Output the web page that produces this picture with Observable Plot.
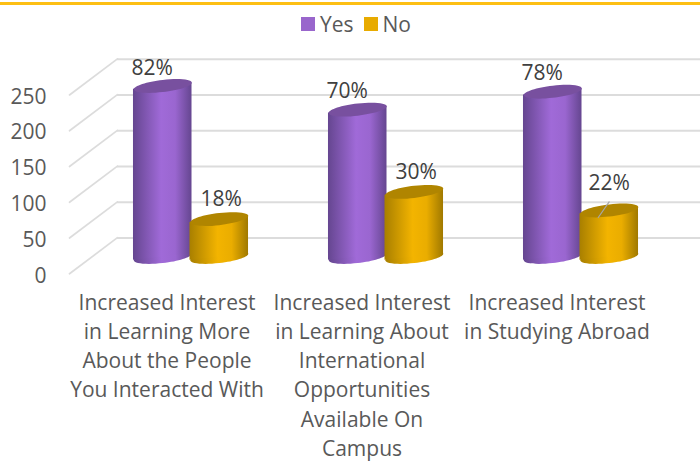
<!DOCTYPE html>
<html>
<head>
<meta charset="utf-8">
<script src="https://cdn.jsdelivr.net/npm/d3@7"></script>
<script src="https://cdn.jsdelivr.net/npm/@observablehq/plot@0.6"></script>
<style>
html,body{margin:0;padding:0;background:#fff;overflow:hidden}
#wrap{position:relative;width:700px;height:462px;font-family:"Open Sans",sans-serif}
#topline{position:absolute;left:0;top:2.4px;width:700px;height:2.3px;background:#fdbf14}
#legend{position:absolute;left:301px;top:7px}
#legend svg{margin-right:5px!important}
#legend span{margin-right:10px!important}
#wrap svg.chart{position:absolute;left:0;top:0}
</style>
</head>
<body>
<div id="wrap"><div id="topline"></div><div id="legend"></div></div>
<script>
const categories = [
  "Increased Interest\nin Learning More\nAbout the People\nYou Interacted With",
  "Increased Interest\nin Learning About\nInternational\nOpportunities\nAvailable On\nCampus",
  "Increased Interest\nin Studying Abroad"
];
const seriesNames = ["Yes", "No"];
const yesValues = [239, 206, 231];
const noValues = [53, 91, 65];
const yesPercents = ["82%", "70%", "78%"];
const noPercents = ["18%", "30%", "22%"];
const yTicks = [0, 50, 100, 150, 200, 250];
const legendColors = ["#9966cc", "#e8ab00"];

const rows = categories.flatMap((c, i) => [
  {category: c, series: "Yes", value: yesValues[i], label: yesPercents[i]},
  {category: c, series: "No", value: noValues[i], label: noPercents[i]}
]);

// pseudo-3D set-up: the floor depth in y units and px
const depth = 50, base = 23.5, backDx = 48, midDx = 24;
const shear = 0.113;
const rx = 29;
const ellipse = {
  draw(ctx, size) {
    const a = Math.sqrt(size / Math.PI), b = a * 0.21, c = 0.5523;
    const P = (x, y) => [x, y - shear * x];
    ctx.moveTo(...P(-a, 0));
    ctx.bezierCurveTo(...P(-a, -b * c), ...P(-a * c, -b), ...P(0, -b));
    ctx.bezierCurveTo(...P(a * c, -b), ...P(a, -b * c), ...P(a, 0));
    ctx.bezierCurveTo(...P(a, b * c), ...P(a * c, b), ...P(0, b));
    ctx.bezierCurveTo(...P(-a * c, b), ...P(-a, b * c), ...P(-a, 0));
    ctx.closePath();
  }
};
const lineShape = {draw(ctx, l) { ctx.moveTo(0, 0); ctx.lineTo(0, -l); }};
const skewBars = (index, scales, values, dims, context, next) => {
  const g = next(index, scales, values, dims, context);
  d3.select(g).selectAll("rect").each(function () {
    const x = +this.getAttribute("x") + this.getAttribute("width") / 2;
    const y = +this.getAttribute("y") + this.getAttribute("height") / 2;
    this.setAttribute("transform",
      `translate(${x},${y}) matrix(1,${-shear},0,1,0,0) translate(${-x},${-y})`);
  });
  return g;
};

const styles = {
  Yes: {body: "url(#gradYes)", top: "#78509f"},
  No: {body: "url(#gradNo)", top: "#b08500"}
};
const cylinder = (s) => {
  const data = rows.filter((d) => d.series === s);
  const shared = {fx: "category", x: "series", dx: midDx};
  return [
    Plot.dot(data, {...shared, y: () => base, r: rx, symbol: ellipse, fill: styles[s].body, stroke: null}),
    Plot.barY(data, {...shared, y1: () => base, y2: (d) => base + d.value, fill: styles[s].body, insetLeft: -1, insetRight: -1, render: skewBars}),
    Plot.dot(data, {...shared, y: (d) => base + d.value, r: rx, symbol: ellipse, fill: styles[s].top, stroke: null})
  ];
};
const moved = (d) => d.label === "22%";
const labelFont = {fontSize: 21, fill: "#404040", stroke: null};

const chart = Plot.plot({
  width: 700, height: 462,
  marginLeft: 69, marginRight: 46, marginTop: 0, marginBottom: 0,
  style: {fontFamily: '"Open Sans", sans-serif', background: "transparent"},
  className: "chart",
  fx: {domain: categories, axis: null, padding: 0, round: false, label: null},
  x: {domain: seriesNames, axis: null, paddingInner: 0, paddingOuter: 0.725, round: false},
  y: {domain: [0, 300], range: [273.3, 58.7], axis: null},
  marks: [
    Plot.ruleY(yTicks, {y: (d) => d + depth, dx: backDx, stroke: "#dcdcdc", strokeWidth: 2}),
    Plot.vector(yTicks, {y: (d) => d, frameAnchor: "left", facetAnchor: "left", length: 60, rotate: 53, anchor: "start", shape: lineShape, stroke: "#dcdcdc", strokeWidth: 1.7}),
    Plot.axisY({ticks: yTicks, tickSize: 0, tickPadding: 23, label: null, fontSize: 21, dy: 2, color: "#595959", fill: "#595959"}),
    ...seriesNames.flatMap(cylinder),
    Plot.text(rows.filter((d) => d.series === "Yes"), {fx: "category", x: "series", y: (d) => base + d.value, text: "label", dx: midDx - 10.5, dy: -18, ...labelFont}),
    Plot.text(rows.filter((d) => d.series === "No" && !moved(d)), {fx: "category", x: "series", y: (d) => base + d.value, text: "label", dx: midDx + 2, dy: -20, ...labelFont}),
    Plot.text(rows.filter(moved), {fx: "category", x: "series", y: (d) => base + d.value, text: "label", dx: midDx, dy: -27, ...labelFont}),
    Plot.vector(rows.filter(moved), {fx: "category", x: "series", y: (d) => base + d.value, dx: midDx - 11, dy: 7, length: 19, rotate: 35, anchor: "start", shape: lineShape, stroke: "#a6a6a6", strokeWidth: 1.2}),
    Plot.text(categories, {fx: (d) => d, frameAnchor: "top", text: (d) => d, dy: 289, lineAnchor: "top", lineHeight: 1.386, fontSize: 21, fill: "#595959", stroke: null})
  ]
});

const root = d3.select(chart);
const defs = root.append("defs");
[["gradYes", ["#654690", "#a06ad8", "#9a66d0", "#654690"]],
 ["gradNo", ["#a87f00", "#f3b400", "#eaad00", "#a07900"]]].forEach(([id, c]) => {
  const g = defs.append("linearGradient").attr("id", id).attr("x1", 0).attr("x2", 1).attr("y1", 0).attr("y2", 0);
  [0, 0.48, 0.72, 1].forEach((o, i) => g.append("stop").attr("offset", o).attr("stop-color", c[i]));
});
document.getElementById("wrap").appendChild(chart);

const legend = Plot.legend({
  color: {domain: seriesNames, range: legendColors},
  swatchSize: 14,
  style: {fontFamily: '"Open Sans", sans-serif', fontSize: "21px", color: "#595959", margin: 0, whiteSpace: "nowrap"}
});
document.getElementById("legend").appendChild(legend);
</script>
</body>
</html>
